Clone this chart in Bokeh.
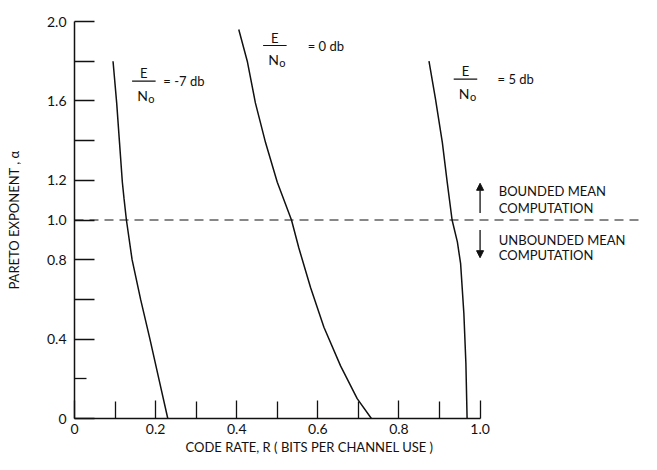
from bokeh.plotting import figure
from bokeh.models import FixedTicker, Span, Label, Arrow, NormalHead, Range1d, Title
from bokeh.embed import file_html
from bokeh.resources import INLINE

# ---- data ----
rate_m7 = [0.095, 0.104, 0.111, 0.118, 0.122, 0.128, 0.142, 0.163, 0.186, 0.208, 0.230]
alpha_m7 = [1.80, 1.59, 1.39, 1.19, 1.11, 1.00, 0.80, 0.60, 0.40, 0.20, 0.00]

rate_0 = [0.405, 0.426, 0.446, 0.471, 0.500, 0.535, 0.553, 0.582, 0.615, 0.656, 0.697, 0.732]
alpha_0 = [1.96, 1.80, 1.59, 1.39, 1.19, 1.00, 0.86, 0.66, 0.46, 0.265, 0.10, 0.00]

rate_5 = [0.874, 0.890, 0.907, 0.919, 0.931, 0.944, 0.952, 0.960, 0.965, 0.968]
alpha_5 = [1.80, 1.61, 1.39, 1.19, 1.00, 0.89, 0.78, 0.53, 0.28, 0.00]

x_ticks = [0, 0.2, 0.4, 0.6, 0.8, 1.0]
x_tick_labels = ["0", "0.2", "0.4", "0.6", "0.8", "1.0"]
x_minor = [0.1, 0.3, 0.5, 0.7, 0.9]

y_ticks = [0, 0.4, 0.6, 0.8, 1.0, 1.2, 1.4, 1.6, 1.8, 2.0]
y_tick_labels = ["0", "0.4", "", "0.8", "1.0", "1.2", "", "1.6", "", "2.0"]
y_minor = [0.2]

boundary_alpha = 1.0

# E/No annotations
ebn0_text = ["= -7 db", "= 0  db", "=  5  db"]
bar_x = [0.171, 0.494, 0.964]
bar_y = [1.700, 1.879, 1.710]
eq_x = [0.219, 0.575, 1.043]

FONT = "Lato"
BLACK = "#111111"

p = figure(width=641, height=454,
           x_range=Range1d(0, 1.398), y_range=Range1d(0, 2.0),
           output_backend="svg", toolbar_location=None,
           min_border_left=74, min_border_right=0,
           min_border_top=21, min_border_bottom=30)
p.outline_line_color = None
p.grid.visible = False
p.background_fill_color = "white"
p.border_fill_color = "white"

# x axis
xa = p.xaxis[0]
xa.bounds = (0, 1.0)
xa.ticker = FixedTicker(ticks=x_ticks, minor_ticks=x_minor)
xa.major_label_overrides = {t: l for t, l in zip(x_ticks, x_tick_labels)}
xa.major_tick_in = 18
xa.major_tick_out = 0
xa.minor_tick_in = 17
xa.minor_tick_out = 0
xa.axis_line_width = 1.5
xa.major_tick_line_width = 1.3
xa.minor_tick_line_width = 1.3
xa.axis_line_color = BLACK
xa.major_tick_line_color = BLACK
xa.minor_tick_line_color = BLACK
xa.major_label_standoff = 5
xa.major_label_text_font = FONT
xa.major_label_text_font_size = "14px"
xa.major_label_text_color = BLACK

# x axis title, below the axis, placed as in the reference
p.add_layout(Title(text="CODE RATE, R  ( BITS PER CHANNEL USE )", align="left",
                   offset=111, standoff=0, text_font=FONT, text_font_size="13px",
                   text_font_style="normal", text_color=BLACK), "below")

# y axis
ya = p.yaxis[0]
ya.bounds = (0, 2.0)
ya.ticker = FixedTicker(ticks=y_ticks, minor_ticks=y_minor)
ya.major_label_overrides = {t: l for t, l in zip(y_ticks, y_tick_labels)}
ya.major_tick_in = 20
ya.major_tick_out = 0
ya.minor_tick_in = 12
ya.minor_tick_out = 0
ya.axis_line_width = 1.5
ya.major_tick_line_width = 1.3
ya.minor_tick_line_width = 1.3
ya.axis_line_color = BLACK
ya.major_tick_line_color = BLACK
ya.minor_tick_line_color = BLACK
ya.major_label_standoff = 8
ya.major_label_text_font = FONT
ya.major_label_text_font_size = "14px"
ya.major_label_text_color = BLACK
ya.axis_label = "PARETO EXPONENT , α"
ya.axis_label_text_font = FONT
ya.axis_label_text_font_size = "13px"
ya.axis_label_text_font_style = "normal"
ya.axis_label_text_color = BLACK
ya.axis_label_standoff = 22

# curves
for xs, ys in [(rate_m7, alpha_m7), (rate_0, alpha_0), (rate_5, alpha_5)]:
    p.line(xs, ys, line_color=BLACK, line_width=1.5)

# boundary alpha = 1
p.add_layout(Span(location=boundary_alpha, dimension="width", line_color=BLACK,
                  line_width=1.2, line_dash="9 6"))

# E/No labels
for bx, by, ex, t in zip(bar_x, bar_y, eq_x, ebn0_text):
    p.segment(x0=[bx - 0.029], y0=[by], x1=[bx + 0.029], y1=[by],
              line_color=BLACK, line_width=1.2)
    p.add_layout(Label(x=bx, y=by, y_offset=8, text="E", text_align="center",
                       text_baseline="middle", text_font=FONT,
                       text_font_size="13px", text_color=BLACK))
    p.add_layout(Label(x=bx, y=by, x_offset=4, y_offset=-14, text="N",
                       text_align="right", text_baseline="middle", text_font=FONT,
                       text_font_size="14px", text_color=BLACK))
    p.add_layout(Label(x=bx, y=by, x_offset=4.5, y_offset=-17, text="o",
                       text_align="left", text_baseline="middle", text_font=FONT,
                       text_font_size="11px", text_color=BLACK))
    p.add_layout(Label(x=ex, y=by, y_offset=0, text=t, text_align="left",
                       text_baseline="middle", text_font=FONT,
                       text_font_size="13px", text_color=BLACK))

# bounded / unbounded region markers
p.add_layout(Arrow(x_start=1.0, y_start=1.035, x_end=1.0, y_end=1.185,
                   line_color=BLACK, line_width=1.3,
                   end=NormalHead(size=7, fill_color=BLACK, line_color=BLACK)))
p.add_layout(Arrow(x_start=1.0, y_start=0.95, x_end=1.0, y_end=0.81,
                   line_color=BLACK, line_width=1.3,
                   end=NormalHead(size=7, fill_color=BLACK, line_color=BLACK)))

region_text = ["BOUNDED MEAN", "COMPUTATION", "UNBOUNDED MEAN", "COMPUTATION"]
region_y = [1.145, 1.062, 0.900, 0.826]
for t, yy in zip(region_text, region_y):
    p.add_layout(Label(x=1.046, y=yy, text=t, text_align="left",
                       text_baseline="middle", text_font=FONT,
                       text_font_size="13px", text_color=BLACK))

open("out.html", "w").write(file_html(p, INLINE))
